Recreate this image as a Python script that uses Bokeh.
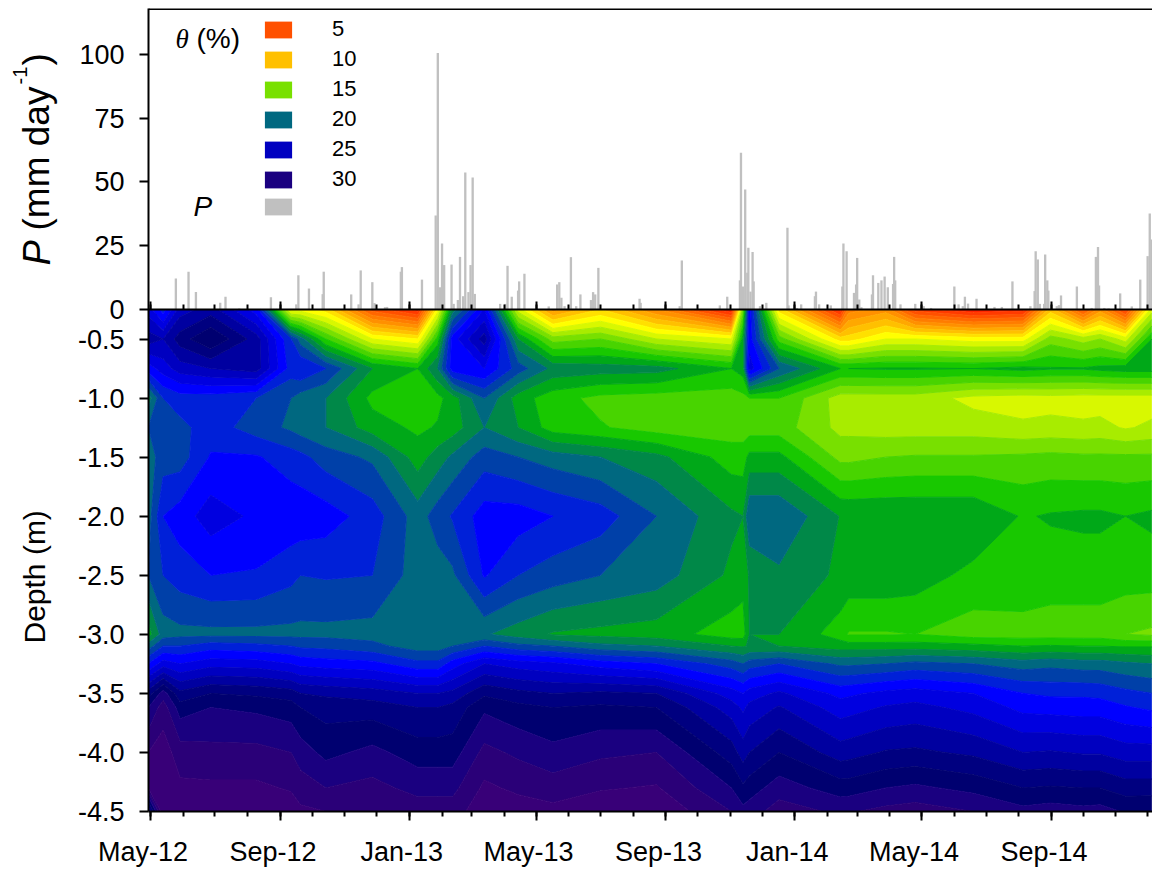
import numpy as np
from datetime import date
from bokeh.embed import file_html
from bokeh.layouts import row
from bokeh.models import FixedTicker, Label, Legend, LegendItem, LinearAxis, Range1d, Span
from bokeh.plotting import figure
from bokeh.resources import INLINE

ORIGIN = date(2012, 5, 1)

def day(s):
    y, m, d = s.split("-")
    return (date(int(y), int(m), int(d)) - ORIGIN).days

# soil-water measurement dates
survey_dates = ["2012-04-29","2012-05-13","2012-05-29","2012-06-27","2012-08-09","2012-09-11","2012-09-20","2012-10-14",
    "2012-11-27","2013-01-09","2013-01-28","2013-02-11","2013-03-13","2013-04-14","2013-05-17","2013-07-01","2013-08-23",
    "2013-11-02","2013-11-13","2013-11-19","2013-12-17","2014-02-13","2014-02-21","2014-03-28","2014-04-25","2014-06-19",
    "2014-08-05","2014-08-31","2014-10-01","2014-10-17","2014-11-10","2014-12-05"]

depths = [-0.25,-0.5,-0.75,-1.0,-1.25,-1.5,-2.0,-2.5,-3.0,-3.1,-3.25,-3.5,-3.62,-4.0,-4.3,-4.5]

d025 = [24,22,25,26,23,12,12,11,5,3,12,19,23.5,13,8,10.5,7.5,2.5,15,23,11,3,7,8,4,2.5,3,10,5,8,4,13]
d050 = [26,25.5,27,28.5,26,21.5,20,16.5,12.5,11.5,17,23,26,18.5,15,15.5,13.5,12.5,18,23,16,11,11,12.5,12.5,12,12,15,14,14.5,13,17.5]
d075 = [23,24,25,25.5,26,22,22.5,21.5,18.5,17.5,19.5,23,23.5,21,19.2,19,18.9,17.5,18,24,20.5,17.5,17.5,17.6,17.6,17.5,17.8,17.6,17.6,17.8,18,18]
d100 = [19,21.5,22,22,21.5,20.5,20,19.5,17.2,17,17.2,18,20.5,18,16.9,16.2,16,16,16.2,16.5,16.5,14,14,14,14,13.2,13,13.1,13,13,13,13]
d125 = [20.5,21,21.2,22,21,20.3,20,19.5,18,17.3,17.6,18,19.5,18.5,17,16.6,16,16,16,16,16,14.2,14.2,14,14,14,13.7,13.8,13.7,13.8,13.4,13.7]
d150 = [20,21,21,22.6,22.6,22,21.8,21,20.3,18,19,19.7,21,20.5,20,19.5,18.8,17,17,17.8,17.8,15.2,15.2,15.5,15.6,15.6,15.7,15.8,15.7,15.7,15.7,15.7]
d200 = [20,22.5,23,24,23.3,23.2,23.2,23,22,20,21,21.6,23,23,22.5,22,20.5,18.7,18.5,20.4,20.4,18.45,18.4,18.4,18.4,18.4,17.4,17.6,17.7,17.7,17.5,17.7]
d250 = [20.5,21.5,22,22.5,22.4,21.8,21.5,21.6,21.5,20,20,20.3,22.6,21.5,21,20.5,20,18.3,17.9,18.6,19.3,18.3,18.2,18.2,18,17.2,17.3,17,17,17,17,17]
d300 = [18,20,20.2,20.2,20.2,20.2,20.2,20.2,20.1,20,20,20,19.6,19,18.4,18.2,18,17,17,18.5,18.5,17,16.4,16.4,16.5,16,16,16,16,16,15.5,15.3]
d310 = [20,21.5,21.5,22,21.8,21.5,21.3,21.2,20.8,20,20,20.5,21.5,20.8,20.5,19.8,19.5,18.5,18.4,18.6,18.5,18,18,18,18,17.8,17.5,17.6,17.5,17.5,17.4,17.4]
d325 = [22.5,24,23.5,24.1,24,23.5,23.2,23,22.8,21.8,21.8,23,24.5,24,23.7,23,22.5,21,20.5,21,21.5,20.3,20.3,20.5,20.8,20.5,20,20.2,20,20,19.7,19.5]
d350 = [27,29,26.8,27.5,27.3,27,26.5,26.3,26,25.5,25.5,25.8,27.3,26.8,26.5,26.7,26.5,24,23.5,24,24.7,23.2,23.3,23.8,24,23.5,22.5,22.3,22.3,22.2,21.8,21.5]
d362 = [28.5,30,28,28.5,28.3,28,27.5,27.1,27,26.5,26.5,26.8,28.3,27.8,27.5,27.7,27.5,25,24.3,24.8,25.6,24,24.1,24.6,24.8,24.2,23.2,23.1,23,23,22.6,22.3]
d400 = [30.5,31,30,29.8,29.8,29.5,29,28.2,28.8,28,28,28,29.8,29.3,28.8,29.3,29.5,27,26,26.5,27.5,26,26.1,26.6,26.7,26.3,25.5,25.6,25.4,25.4,25,25]
d430 = [30.5,31.5,30.7,30.7,30.7,30.4,30,29.5,29.8,29.2,29.2,29.2,30.7,30.3,30,30.4,30.6,28.5,27.7,28,29,28,28,28.5,28.7,28.2,27.5,27.6,27.5,27.5,27,27]
d450 = [25.5,31.5,31,31.3,31.3,31,30.7,30.5,30.4,30,30,30,31.2,31,30.8,31.2,31.3,29.5,28.8,29,30,29.3,29.4,29.8,30,29.5,28.8,29,28.8,28.9,28.4,28.5]

# daily precipitation: days after 1 May 2012, mm
rain_days = [24,36,43,66,71,84,114,138,140,150,163,164,190,197,199,210,212,222,224,237,238,257,270,272,274,276,278,285,287,291,293,296,298,301,303,305,307,331,336,338,342,348,349,354,377,385,387,389,392,398,
    403,407,417,419,421,424,463,464,501,503,539,546,558,559,561,563,565,566,568,570,571,577,583,603,604,612,616,629,630,633,644,655,656,659,666,668,669,671,673,683,684,689,692,695,698,703,704,705,710,724,732,739,761,765,769,771,774,782,799,806,816,833,837,838,840,842,846,847,849,850,858,860,862,877,891,895,897,898,903,907,918,929,937,944,946,948]
rain_mm = [12.1,14.8,6.8,2.6,5,0.4,4.8,2,13.4,8.2,6,14.8,5.9,2,15.3,10.7,2.5,0.9,1,14.8,16.6,11.7,36.8,100.5,8.7,25.8,17.4,17.6,2.2,3.7,20.6,5.2,53.7,6.8,17.4,51.7,6.1,2.2,2.2,17.1,5,7.4,11,14,1.2,9.8,10.7,4.6,1.3,20.5,
    1.3,5.9,3.7,6.8,5.9,16.3,4.2,2.6,1.3,19.2,1.6,5,11.4,61.4,9,47,14.4,24.2,7,22.5,11,1.3,2.6,32,1.6,0.6,2,5.2,7,2,1.6,9,25.8,22.8,6.5,9.8,20.2,3.9,0.9,5.9,13.4,10.4,11.4,12.9,8.7,10,20.6,11.4,2,2.2,1.3,0.6,9,2,1.3,5,2.3,4.2,1,1,11,1.3,7.2,22.8,19.6,2.2,2.2,21.5,11.4,7.4,1.3,1.7,5.5,9,0.6,20.6,24.5,9.4,0.6,0.4,6.3,1.2,11.7,20.9,37.6,27.4]

# colour of each 1 % band, from theta = 1 up to theta = 33
band_colors = ["#FF0000","#FF0C00","#FF2400","#FF3A00","#FF5000","#FF6600","#FF7C00","#FF9000","#FFA800","#FFC000","#FFE000","#FFFF00",
    "#D8F800","#A8EC00","#78E000","#48D400","#18C800","#00A818","#008848","#006880","#0040A8","#0020D8","#0000FF","#0000E0","#0000C0",
    "#0000A0","#000080","#000070","#1A0080","#2A0078","#380078","#380078","#380078"]

legend_values = ["5","10","15","20","25","30"]
legend_colors = ["#FF5000","#FFC000","#78E000","#006880","#0000C0","#1A0080"]

tick_months = [(2012,m) for m in range(5,13)] + [(2013,m) for m in range(1,13)] + [(2014,m) for m in range(1,13)] + [(2015,1)]
month_days = [(date(y,m,1)-ORIGIN).days for y,m in tick_months]
major_days = month_days[::4]
major_labels = ["May-12","Sep-12","Jan-13","May-13","Sep-13","Jan-14","May-14","Sep-14","Jan-15"]

p_ticks = [0,25,50,75,100]
depth_ticks = [-0.5,-1.0,-1.5,-2.0,-2.5,-3.0,-3.5,-4.0,-4.5]
depth_labels = ["-0.5","-1.0","-1.5","-2.0","-2.5","-3.0","-3.5","-4.0","-4.5"]

SANS = "Liberation Sans"
TICK = "27px"
X_MIN, X_MAX = -1.9, 948.6
DEPTH_TOP, DEPTH_BOTTOM = 2.298, -4.5
SURFACE = -0.25
M_PER_MM = (DEPTH_TOP - SURFACE) / 117.9   # the rainfall panel shares the frame above the soil
LEFT_STRIP = 72

p = figure(width=1152 - LEFT_STRIP, height=865, frame_width=1004, frame_height=803, output_backend="svg", toolbar_location=None,
           x_range=Range1d(X_MIN, X_MAX), y_range=Range1d(DEPTH_BOTTOM, DEPTH_TOP),
           min_border_left=148 - LEFT_STRIP, min_border_right=0, min_border_top=8, min_border_bottom=54)
p.grid.visible = False
p.outline_line_color = None

x = np.array([day(s) for s in survey_dates], dtype=float)
rows = [d025,d050,d075,d100,d125,d150,d200,d250,d300,d310,d325,d350,d362,d400,d430,d450]
z = np.array(rows[::-1], dtype=float)
y = np.array(depths[::-1], dtype=float)
levels = [i + 0.5 for i in range(0, 34)]
p.contour(x, y, z, levels, fill_color=band_colors, line_color=band_colors + [band_colors[-1]], line_width=1)

p.extra_y_ranges = {"rain": Range1d((DEPTH_BOTTOM - SURFACE) / M_PER_MM, 117.9)}
bars = p.vbar(x=rain_days, top=rain_mm, width=2.2, bottom=0, fill_color="#C0C0C0", line_color=None, y_range_name="rain")
p.add_layout(Span(location=DEPTH_TOP - 0.004, dimension="width", line_color="black", line_width=2))

# one left axis: rainfall labels above the surface, depth labels below it
ya = p.yaxis[0]
ya.axis_line_color = "black"; ya.axis_line_width = 2
ya.major_tick_line_color = "black"; ya.major_tick_line_width = 2
ya.major_tick_in = 0; ya.major_tick_out = 9
ya.minor_tick_line_color = None
ya.major_label_text_font = SANS; ya.major_label_text_font_size = TICK
ya.major_label_text_color = "black"; ya.major_label_standoff = 15
rain_tick_pos = [SURFACE + t * M_PER_MM for t in p_ticks]
ya.ticker = FixedTicker(ticks=depth_ticks + rain_tick_pos)
over = dict(zip(depth_ticks, depth_labels))
over.update({pos: str(t) for pos, t in zip(rain_tick_pos, p_ticks)})
ya.major_label_overrides = over

def style_x(ax):
    ax.axis_line_color = "black"; ax.axis_line_width = 2
    ax.major_tick_line_color = "black"; ax.major_tick_line_width = 2
    ax.minor_tick_line_color = "black"; ax.minor_tick_line_width = 2
    ax.ticker = FixedTicker(ticks=major_days, minor_ticks=month_days)

# month ticks below the soil panel; the labels sit a little left of their ticks in the original
xb = p.xaxis[0]
style_x(xb)
xb.major_tick_in = 0; xb.major_tick_out = 9; xb.minor_tick_in = 0; xb.minor_tick_out = 5
xb.major_label_text_font = SANS; xb.major_label_text_font_size = TICK; xb.major_label_text_color = "black"
xb.major_label_standoff = 16
xb.major_label_overrides = {d: lab + "\u00a0\u00a0" for d, lab in zip(major_days, major_labels)}

# month ticks at P = 0
xt = LinearAxis()
style_x(xt)
xt.fixed_location = SURFACE
xt.major_tick_in = 8; xt.major_tick_out = 0; xt.minor_tick_in = 5; xt.minor_tick_out = 0
xt.major_label_text_font_size = "0px"; xt.major_label_text_color = None
p.add_layout(xt, "below")

items = []
for lab, col in zip(legend_values, legend_colors):
    r = p.quad(left=[np.nan], right=[np.nan], top=[np.nan], bottom=[np.nan], fill_color=col, line_color=None)
    items.append(LegendItem(label=lab, renderers=[r]))
items.append(LegendItem(label=" ", renderers=[bars]))
leg = Legend(items=items, location=(113, 594), orientation="vertical",
             background_fill_alpha=0, border_line_color=None, margin=0, padding=0,
             glyph_width=34, glyph_height=21, label_standoff=37, spacing=4, label_height=17,
             label_text_font=SANS, label_text_font_size="22px", label_text_color="black")
p.add_layout(leg, "center")

def text(fig, s, x, y, size, font=SANS, style="normal", angle=0):
    fig.add_layout(Label(x=x, y=y, x_units="canvas", y_units="canvas", text=s, text_font=font,
                         text_font_size=size, text_font_style=style, text_color="black", angle=angle,
                         angle_units="deg", text_baseline="alphabetic", text_align="left"))

text(p, "θ", 175 - LEFT_STRIP, 38, "27px", font="Liberation Serif", style="italic")
text(p, "(%)", 196 - LEFT_STRIP, 38, "28px")
text(p, "P", 193 - LEFT_STRIP, 206, "28px", style="italic")

# strip that holds the two rotated axis titles
strip = figure(width=LEFT_STRIP, height=865, output_backend="svg", toolbar_location=None,
               x_range=Range1d(0, LEFT_STRIP), y_range=Range1d(0, 865),
               min_border_left=0, min_border_right=0, min_border_top=0, min_border_bottom=0)
strip.axis.visible = False
strip.grid.visible = False
strip.outline_line_color = None
text(strip, "P", 36, 265, "38px", style="italic", angle=90)
text(strip, "(mm day", 36, 230, "37px", angle=90)
text(strip, "-1", 19, 84, "20px", angle=90)
text(strip, ")", 36, 65, "37px", angle=90)
text(strip, "Depth (m)", 34, 643, "30px", angle=90)

page = row(strip, p, spacing=0)
open("out.html", "w").write(file_html(page, INLINE))
